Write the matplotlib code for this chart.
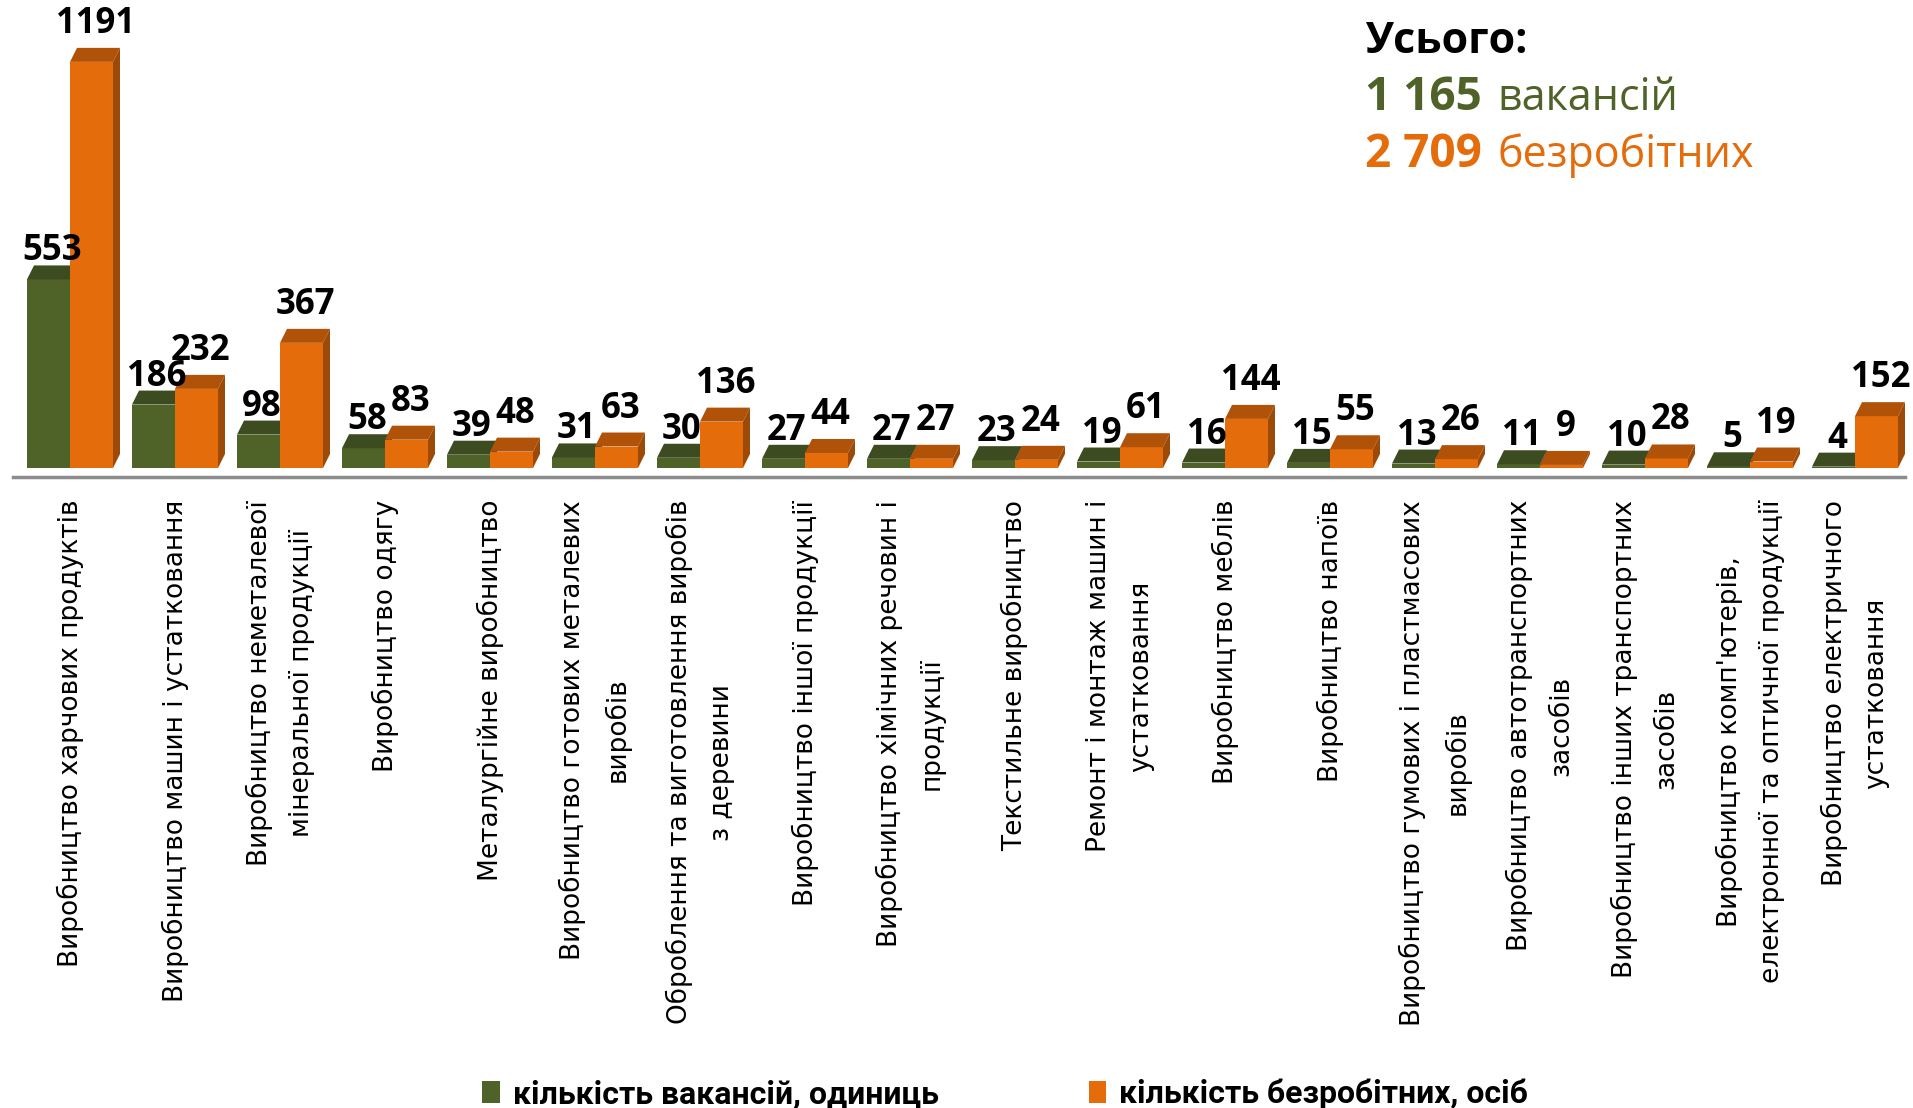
import matplotlib
matplotlib.use('Agg')
import matplotlib.pyplot as plt
from matplotlib.patches import Polygon
import numpy as np

categories = [
    'Виробництво харчових продуктів',
    'Виробництво машин і устатковання',
    'Виробництво неметалевої\nмінеральної продукції',
    'Виробництво одягу',
    'Металургійне виробництво',
    'Виробництво готових металевих\nвиробів',
    'Оброблення та виготовлення виробів\nз деревини',
    'Виробництво іншої продукції',
    'Виробництво хімічних речовин і\nпродукції',
    'Текстильне виробництво',
    'Ремонт і монтаж машин і\nустатковання',
    'Виробництво меблів',
    'Виробництво напоїв',
    'Виробництво гумових і пластмасових\nвиробів',
    'Виробництво автотранспортних\nзасобів',
    'Виробництво інших транспортних\nзасобів',
    "Виробництво комп'ютерів,\nелектронної та оптичної продукції",
    'Виробництво електричного\nустатковання',
]
vacancies = [553, 186, 98, 58, 39, 31, 30, 27, 27, 23, 19, 16, 15, 13, 11, 10, 5, 4]
unemployed = [1191, 232, 367, 83, 48, 63, 136, 44, 27, 24, 61, 144, 55, 26, 9, 28, 19, 152]
series_names = ['кількість вакансій, одиниць', 'кількість безробітних, осіб']
total_vac = '1 165'
total_unemp = '2 709'

GREEN = '#4f6228'
GREEN_TOP = '#3d4b20'
GREEN_SIDE = '#35421b'
ORANGE = '#e46c0a'
ORANGE_TOP = '#b05309'
ORANGE_SIDE = '#9c4a08'

W, H = 1913, 1108
fig = plt.figure(figsize=(W / 100, H / 100), dpi=100)

# layout in pixels: baseline 468 px from top, 105 px per group, 0.341 px per unit
base_px = 468
step_px = 105
px_per_unit = 0.341
ax = fig.add_axes([0, (H - base_px) / H, 1, base_px / H])
ax.set_ylim(0, base_px / px_per_unit)
ax.set_xlim(-70 / step_px, (W - 70) / step_px)

x = np.arange(len(categories))
w = 43 / step_px
dx = 7 / step_px
dy = 14 / px_per_unit

def draw_3d(bars, top_c, side_c, z):
    for b in bars:
        x0 = b.get_x()
        x1 = x0 + b.get_width()
        h = b.get_height()
        top = Polygon([(x0, h), (x1, h), (x1 + dx, h + dy), (x0 + dx, h + dy)],
                      closed=True, fc=top_c, ec='none', zorder=z, clip_on=False)
        side = Polygon([(x1, 0), (x1, h), (x1 + dx, h + dy), (x1 + dx, dy)],
                       closed=True, fc=side_c, ec='none', zorder=z, clip_on=False)
        ax.add_patch(top)
        ax.add_patch(side)

b1 = ax.bar(x - w / 2, vacancies, w, color=GREEN, zorder=2, label=series_names[0])
draw_3d(b1, GREEN_TOP, GREEN_SIDE, 2.1)
b2 = ax.bar(x + w / 2, unemployed, w, color=ORANGE, zorder=3, label=series_names[1])
draw_3d(b2, ORANGE_TOP, ORANGE_SIDE, 3.1)

# value labels (orange ones sit a little higher, as in the original)
lab_font = {'family': 'Open Sans', 'weight': 'bold', 'size': 25}
for xi, v in zip(x, vacancies):
    ax.text(xi - w / 2 + dx / 2, v + dy + 5 / px_per_unit, str(v), ha='center',
            va='baseline', fontdict=lab_font, zorder=5)
for xi, v in zip(x, unemployed):
    ax.text(xi + w / 2 + 4 / step_px, v + dy + 15 / px_per_unit, str(v), ha='center',
            va='baseline', fontdict=lab_font, zorder=5)

ax.axhline(-9 / px_per_unit, xmin=13 / W, xmax=1905 / W, color='#8c8c8c', lw=2.5,
           clip_on=False)

ax.set_xticks(x, categories)
ax.tick_params(axis='x', length=0, pad=23, labelsize=19)
for t in ax.get_xticklabels():
    t.set_rotation(90)
    t.set_multialignment('center')
    t.set_linespacing(1.8)
    t.set_fontfamily('DejaVu Sans')
ax.set_yticks([])
for s in ax.spines.values():
    s.set_visible(False)

# totals block, top right
renderer = fig.canvas.get_renderer()
hx = 1365 / W
fig.text(hx, 1 - 53 / H, 'Усього:', fontsize=31, fontweight='bold',
         family='Open Sans', color='black', va='baseline')

def total_line(num, word, color, base_y):
    t = fig.text(hx, 1 - base_y / H, num, fontsize=33, fontweight='bold',
                 family='Open Sans', color=color, va='baseline')
    bb = t.get_window_extent(renderer)
    fig.text(bb.x1 / W + 16 / W, 1 - base_y / H, word, fontsize=31,
             family='Open Sans', color=color, va='baseline')

total_line(total_vac, 'вакансій', GREEN, 110)
total_line(total_unemp, 'безробітних', ORANGE, 167)

fig.legend(handles=[b1, b2], labels=series_names, loc='center',
           bbox_to_anchor=(1005 / W, 1 - 1094 / H), ncol=2, frameon=False,
           handlelength=0.55, handleheight=0.7, handletextpad=0.4,
           columnspacing=4.7,
           prop={'family': 'Roboto', 'weight': 'bold', 'size': 23})

fig.savefig('out.png', dpi=100, facecolor='white')
